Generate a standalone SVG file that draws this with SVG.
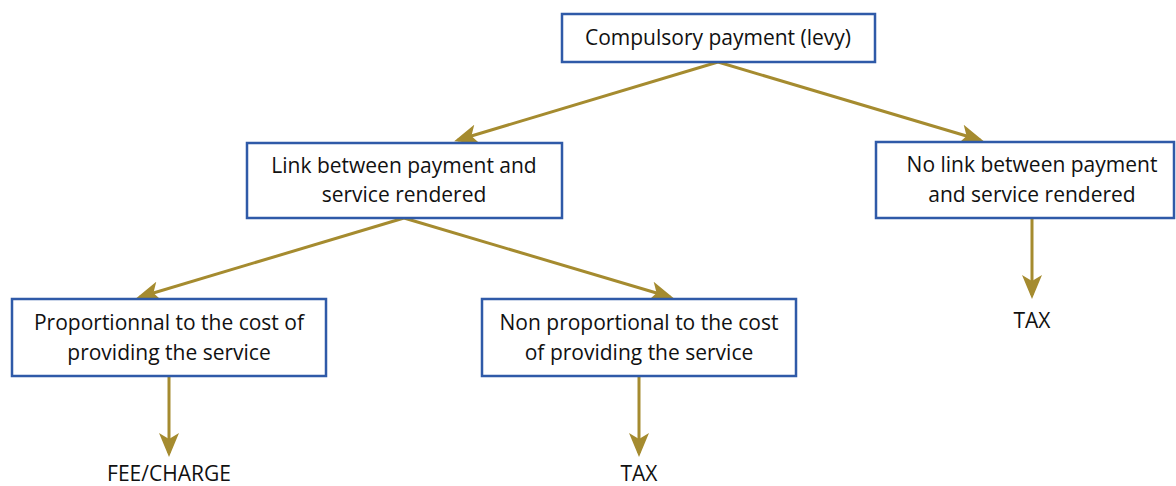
<svg xmlns="http://www.w3.org/2000/svg" width="1176" height="486" viewBox="0 0 1176 486">
<style>
.box{fill:#fff;stroke:#2f5aa8;stroke-width:2.5}
.t{font-family:"Open Sans","Liberation Sans",sans-serif;font-size:21px;fill:#111;text-anchor:middle}
.c{fill:none;stroke:#a58b2f;stroke-width:3}
</style>
<defs>
<marker id="ah" viewBox="0 0 24 20" refX="20" refY="10" markerWidth="24" markerHeight="20" markerUnits="userSpaceOnUse" orient="auto">
<path d="M0,0 L24,10 L0,20 L6,10 Z" fill="#a58b2f"/>
</marker>
</defs>
<rect width="1176" height="486" fill="#fff"/>
<g id="connectors">
<path class="c" d="M718,62 L458,140" marker-end="url(#ah)"/>
<path class="c" d="M718,62 L980,140" marker-end="url(#ah)"/>
<path class="c" d="M404,218 L140,297" marker-end="url(#ah)"/>
<path class="c" d="M404,218 L670,297" marker-end="url(#ah)"/>
<path class="c" d="M169,376 L169,453" marker-end="url(#ah)"/>
<path class="c" d="M639,376 L639,453" marker-end="url(#ah)"/>
<path class="c" d="M1032,218 L1032,295" marker-end="url(#ah)"/>
</g>
<g id="n-top"><rect class="box" x="562" y="14" width="313" height="48"/><text class="t" x="718" y="45">Compulsory payment (levy)</text></g>
<g id="n-link"><rect class="box" x="247" y="143" width="315" height="75"/><text class="t" x="404" y="173">Link between payment and</text><text class="t" x="404" y="202">service rendered</text></g>
<g id="n-nolink"><rect class="box" x="876" y="142" width="298" height="76"/><text class="t" x="1032" y="172">No link between payment</text><text class="t" x="1032" y="202">and service rendered</text></g>
<g id="n-prop"><rect class="box" x="12" y="299" width="314" height="77"/><text class="t" x="169" y="330">Proportionnal to the cost of</text><text class="t" x="169" y="360">providing the service</text></g>
<g id="n-nonprop"><rect class="box" x="482" y="299" width="314" height="77"/><text class="t" x="639" y="330">Non proportional to the cost</text><text class="t" x="639" y="360">of providing the service</text></g>
<g id="n-fee"><text class="t" x="169" y="481">FEE/CHARGE</text></g>
<g id="n-tax1"><text class="t" x="639" y="481">TAX</text></g>
<g id="n-tax2"><text class="t" x="1032" y="328">TAX</text></g>
</svg>
